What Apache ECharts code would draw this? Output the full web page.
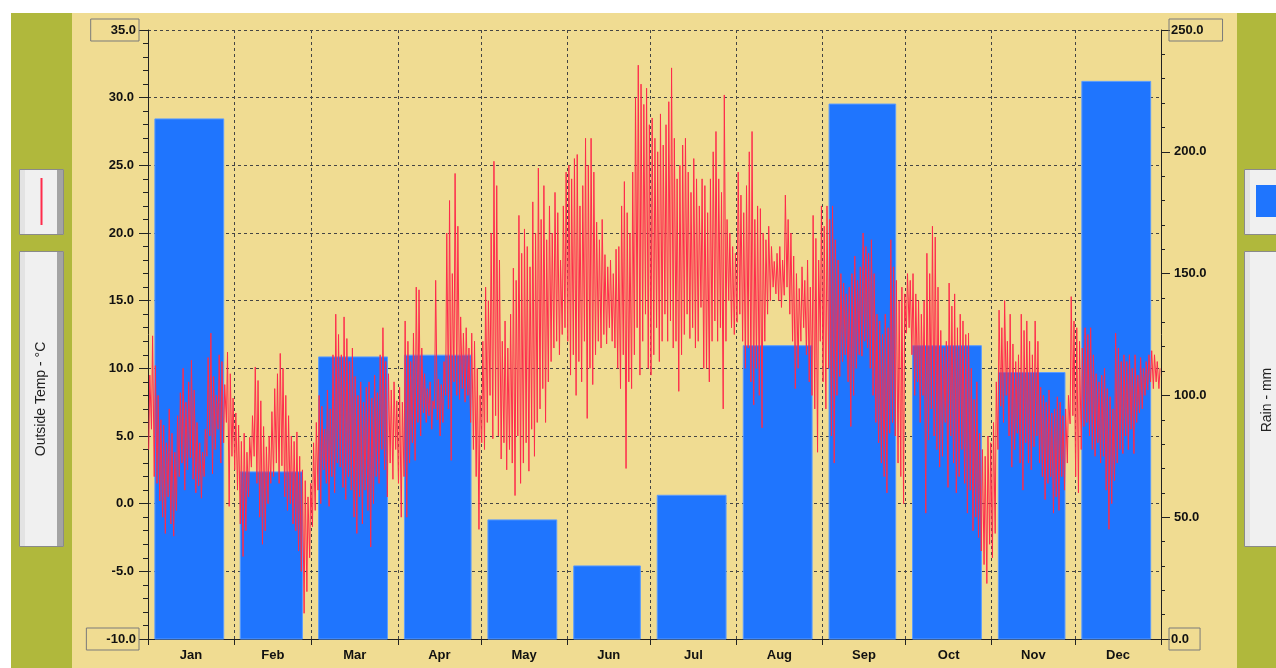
<!DOCTYPE html>
<html>
<head>
<meta charset="utf-8">
<title>Outside Temp / Rain</title>
<script src="https://cdn.jsdelivr.net/npm/echarts@6/dist/echarts.min.js"></script>
<style>
html, body { margin: 0; padding: 0; background: #fff; }
#main { width: 1276px; height: 668px; }
</style>
</head>
<body>
<div id="main"></div>
<script>
var months = ['Jan', 'Feb', 'Mar', 'Apr', 'May', 'Jun', 'Jul', 'Aug', 'Sep', 'Oct', 'Nov', 'Dec'];
var monthDays = [31, 28, 31, 30, 31, 30, 31, 31, 30, 31, 30, 31];

// monthly rain totals (mm)
var rainTotals = [213.5, 68.6, 115.8, 116.5, 48.9, 30.0, 59.0, 120.4, 219.6, 120.4, 109.4, 228.9];

// daily high / low outside temperature (°C), one line per month
var tempHigh = [
    9.5, 12.4, 10.2, 8.0, 6.2, 5.8, 4.5, 7.0, 5.2, 3.8, 6.5, 8.2, 10.0, 7.5, 9.0, 10.6, 8.4, 6.0, 4.5, 3.8, 5.5, 10.8, 12.6, 9.4, 8.0, 11.0, 10.5, 8.8, 11.2, 9.6, 7.8,
    6.7, 5.8, 4.6, 5.2, 3.8, 4.9, 6.5, 10.1, 9.1, 7.6, 5.7, 4.2, 5.0, 6.8, 8.5, 9.6, 11.1, 10.0, 8.0, 6.5, 5.0, 4.6, 5.3, 3.5, 2.5, 1.7, 0.5, 1.5,
    4.5, 6.0, 8.0, 7.2, 5.5, 8.4, 7.0, 11.0, 14.0, 12.5, 11.0, 13.8, 12.2, 10.5, 11.5, 9.4, 8.0, 9.0, 7.5, 8.6, 9.0, 7.8, 9.5, 8.2, 11.0, 13.0, 10.5, 9.6, 8.4, 9.0, 7.6,
    8.6, 7.5, 13.5, 12.0, 10.5, 12.6, 16.0, 15.8, 11.5, 9.6, 8.5, 9.0, 7.6, 16.5, 9.2, 8.8, 10.5, 20.0, 22.4, 17.0, 24.4, 20.5, 13.8, 12.6, 13.0, 11.5, 12.6, 12.0, 10.0, 8.0,
    12.0, 16.0, 15.0, 20.0, 25.3, 23.5, 18.0, 12.0, 13.5, 11.5, 14.0, 17.4, 16.5, 21.3, 18.5, 20.3, 19.0, 17.5, 22.3, 20.0, 24.8, 21.0, 23.5, 19.5, 22.0, 20.0, 23.0, 21.5, 18.0, 22.0, 24.5,
    25.0, 24.0, 25.5, 25.8, 22.0, 23.5, 27.0, 25.0, 27.0, 24.5, 20.8, 19.5, 21.0, 18.4, 17.5, 18.0, 17.0, 18.8, 19.0, 22.0, 23.8, 21.5, 20.0, 24.5, 30.0, 32.4, 31.0, 29.5, 30.7, 28.0,
    28.5, 27.0, 26.0, 28.8, 26.5, 28.0, 29.7, 32.2, 27.0, 24.0, 25.0, 26.5, 27.0, 24.5, 23.0, 25.5, 24.0, 22.0, 24.0, 23.5, 21.5, 24.0, 26.0, 27.5, 24.0, 23.0, 30.2, 21.0, 20.0, 19.0, 18.5,
    24.5, 22.8, 21.5, 23.5, 26.0, 27.5, 21.0, 22.0, 21.8, 20.0, 19.5, 20.5, 19.0, 17.9, 18.5, 19.0, 18.0, 22.8, 21.0, 20.0, 18.3, 17.0, 15.9, 17.5, 16.5, 18.0, 16.0, 21.3, 19.6, 18.0, 22.0,
    20.5, 22.0, 21.0, 22.0, 19.5, 18.0, 17.0, 16.3, 15.5, 16.0, 17.0, 18.3, 16.5, 17.5, 20.0, 19.0, 18.5, 19.5, 17.0, 14.0, 13.5, 12.5, 14.0, 13.0, 19.5, 17.5, 16.5, 15.0, 16.0, 15.5,
    17.0, 16.5, 17.0, 15.5, 15.0, 14.0, 15.0, 18.5, 17.0, 20.5, 19.7, 16.0, 12.8, 11.5, 12.0, 16.3, 14.6, 15.5, 13.0, 14.0, 13.5, 12.5, 12.6, 10.0, 7.7, 9.0, 5.2, 4.0, 3.5, 5.0, 4.5,
    6.0, 9.0, 14.3, 13.0, 15.0, 12.0, 14.0, 11.8, 10.5, 11.0, 14.0, 12.8, 13.5, 12.0, 11.0, 13.5, 12.0, 8.6, 8.0, 7.5, 8.4, 6.7, 7.0, 7.9, 7.5, 6.5, 7.0, 8.0, 15.3, 13.5,
    13.0, 12.0, 11.5, 13.0, 12.5, 13.0, 11.0, 9.6, 9.0, 9.5, 10.0, 8.5, 7.9, 7.0, 12.6, 11.5, 10.5, 11.0, 10.5, 11.0, 10.0, 11.0, 9.5, 10.8, 10.0, 10.5, 11.0, 11.3, 11.0, 10.5, 10.0
];
var tempLow = [
    4.0, 5.5, 2.0, 1.5, 0.2, -1.0, -2.2, 0.5, -1.5, -2.4, -0.5, 2.0, 3.0, 1.0, 2.5, 3.4, 1.8, 0.8, 1.3, 0.4, 2.0, 3.5, 5.0, 2.2, 4.0, 5.5, 3.0, 4.5, 6.0, -0.2, 3.5,
    2.5, 1.0, -1.5, -3.9, -2.0, 0.5, 2.7, 3.5, 1.5, -1.0, -3.0, -2.0, 0.0, 1.5, 2.0, 3.0, 1.5, 2.8, 0.5, -0.5, 0.0, -1.5, -2.0, -3.5, -5.0, -8.1, -6.5, -4.0,
    -1.7, -0.5, 1.0, 0.0, 2.5, 1.5, -0.2, 2.0, 0.8, 3.0, 2.7, 1.2, 0.3, 2.0, 1.0, -1.0, -2.2, 0.5, -1.5, 1.0, -0.5, -3.2, 0.0, 2.0, 1.5, 4.0, 2.5, 0.5, 3.0, 1.8, 4.0,
    1.5, -1.0, 2.0, -1.0, 3.0, 4.5, 3.2, 6.0, 5.0, 6.7, 6.0, 6.5, 5.5, 7.0, 6.2, 5.0, 6.0, 8.0, 7.0, 3.2, 9.0, 8.0, 7.7, 8.5, 7.5, 8.0, 6.0, 4.0, 2.0, -1.9,
    4.5, 4.0, 6.0, 8.0, 4.8, 6.5, 5.0, 3.3, 4.5, 2.5, 4.0, 3.0, 0.6, 5.0, 1.5, 3.0, 4.5, 2.4, 5.5, 3.5, 6.0, 7.0, 8.5, 6.0, 9.0, 10.5, 11.5, 12.0, 11.0, 12.5, 13.0,
    12.0, 9.5, 11.0, 8.0, 10.5, 9.0, 12.0, 6.3, 10.0, 8.8, 11.0, 12.0, 11.5, 12.5, 11.8, 13.0, 12.0, 11.5, 10.0, 8.5, 11.0, 2.6, 9.0, 8.5, 11.0, 13.0, 9.5, 12.0, 14.0, 10.0,
    9.5, 11.0, 13.0, 10.5, 12.0, 14.0, 12.0, 13.5, 11.5, 12.0, 8.3, 11.0, 12.5, 14.0, 12.2, 13.0, 11.5, 12.0, 14.5, 10.0, 10.0, 9.0, 12.0, 13.5, 12.0, 13.0, 7.0, 12.0, 15.0, 13.0, 12.5,
    13.4, 14.0, 12.0, 10.0, 11.5, 9.0, 7.3, 10.0, 8.0, 5.6, 12.0, 14.0, 15.0, 16.0, 15.5, 15.0, 14.5, 15.4, 16.0, 14.0, 12.0, 8.5, 10.0, 12.0, 13.0, 11.0, 9.0, 8.0, 7.0, 3.8, 12.0,
    9.0, 7.0, 10.0, 5.0, 3.0, 8.0, 9.4, 10.5, 11.0, 9.0, 5.7, 8.0, 10.0, 11.0, 10.9, 12.0, 11.5, 10.0, 8.0, 6.0, 4.5, 3.0, 2.0, 0.8, 5.2, 6.0, 5.0, 3.0, 2.0, 0.0,
    12.6, 13.0, 11.0, 8.0, 9.0, 6.0, 8.0, -0.7, 4.7, 7.0, 5.0, 4.0, 2.7, 3.5, 6.0, 1.2, 5.0, 3.0, 0.8, 2.0, 4.0, 1.5, -0.7, 1.0, -2.0, -1.0, -2.5, -3.5, -4.5, -5.9, -3.0,
    -4.0, -2.2, 4.0, 7.2, 6.0, 8.0, 5.0, 2.7, 4.0, 5.2, 3.0, 1.0, 4.5, 3.0, 2.5, 4.2, 5.0, 3.0, 2.0, 0.3, 1.5, 2.0, -0.7, 0.5, -0.5, 2.0, 1.0, 3.0, 5.9, 6.5,
    2.0, 0.8, 4.0, 5.7, 6.0, 5.0, 4.0, 3.5, 4.5, 3.0, 3.5, 1.0, -1.9, 0.0, 1.7, 3.0, 4.0, 3.7, 5.0, 4.0, 5.5, 3.7, 6.0, 6.7, 7.0, 8.0, 8.4, 9.0, 8.5, 9.0, 8.5
];

var beige = '#f0dc92';
var olive = '#b0b83c';
var rainBlue = '#1f75fe';
var tempRed = '#ff2b4b';
var labelFont = '"Liberation Sans", Arial, sans-serif';

// month start days on the day-of-year axis
var monthStart = [];
var monthMid = [];
var d = 0;
for (var i = 0; i < 12; i++) {
    monthStart.push(d);
    monthMid.push(d + monthDays[i] / 2);
    d += monthDays[i];
}
var yearDays = d;

var rainData = [];
for (var i = 0; i < 12; i++) {
    rainData.push([monthStart[i], monthDays[i], rainTotals[i]]);
}

// low in the morning, high in the afternoon
var tempData = [];
for (var i = 0; i < tempHigh.length; i++) {
    tempData.push([i + 0.25, tempLow[i]]);
    tempData.push([i + 0.65, tempHigh[i]]);
}

function monthName(v) {
    for (var i = 0; i < 12; i++) {
        if (v >= monthStart[i] && v < monthStart[i] + monthDays[i]) return months[i];
    }
    return '';
}

function renderRain(params, api) {
    var start = api.value(0), days = api.value(1), rain = api.value(2);
    var p0 = api.coord([start + days * 0.08, rain]);
    var p1 = api.coord([start + days * 0.88, 0]);
    return {
        type: 'rect',
        shape: { x: p0[0], y: p0[1], width: p1[0] - p0[0], height: p1[1] - p0[1] },
        style: { fill: rainBlue, stroke: '#5a9bff', lineWidth: 1 }
    };
}

function legendBox(x, y, w, h) {
    return [
        { type: 'rect', shape: { x: x + 0.5, y: y + 0.5, width: w, height: h }, style: { fill: '#f0f0f0', stroke: '#8a8a8a', lineWidth: 1 } },
        { type: 'rect', shape: { x: x + 1, y: y + 1, width: 5, height: h - 1 }, style: { fill: '#e3e3e3' } },
        { type: 'rect', shape: { x: x + w - 6, y: y + 1, width: 6, height: h - 1 }, style: { fill: '#a4a4a4' } }
    ];
}

var graphics = [
    { type: 'rect', shape: { x: 0, y: 0, width: 1276, height: 13 }, style: { fill: '#ffffff' } },
    { type: 'rect', shape: { x: 0, y: 0, width: 11, height: 668 }, style: { fill: '#ffffff' } },
    { type: 'rect', shape: { x: 11, y: 13, width: 61, height: 655 }, style: { fill: olive } },
    { type: 'rect', shape: { x: 1237, y: 13, width: 39, height: 655 }, style: { fill: olive } }
];
graphics = graphics.concat(legendBox(19, 169, 44, 65));
graphics = graphics.concat(legendBox(19, 251, 44, 295));
graphics = graphics.concat(legendBox(1244, 169, 44, 65));
graphics = graphics.concat(legendBox(1244, 251, 44, 295));
graphics.push(
    { type: 'line', shape: { x1: 41.5, y1: 178, x2: 41.5, y2: 225 }, style: { stroke: tempRed, lineWidth: 2 } },
    { type: 'rect', shape: { x: 1256, y: 185, width: 25, height: 32 }, style: { fill: rainBlue } },
    { type: 'text', x: 41, y: 399, rotation: Math.PI / 2,
      style: { text: 'Outside Temp - °C', font: '14px ' + labelFont, fill: '#222', align: 'center', verticalAlign: 'middle' } },
    { type: 'text', x: 1267, y: 400, rotation: Math.PI / 2,
      style: { text: 'Rain - mm', font: '14px ' + labelFont, fill: '#222', align: 'center', verticalAlign: 'middle' } }
);

var myChart = echarts.init(document.getElementById('main'));

var option = {
    backgroundColor: beige,
    animation: false,
    grid: { left: 148, right: 115, top: 30, bottom: 29 },
    xAxis: {
        type: 'value',
        min: 0,
        max: yearDays,
        axisLine: { show: true, onZero: false, lineStyle: { color: '#222', width: 1 } },
        axisTick: { show: true, customValues: monthStart.concat([yearDays]), length: 6, lineStyle: { color: '#222' } },
        axisLabel: {
            customValues: monthMid,
            formatter: function (v) { return monthName(v); },
            fontFamily: labelFont, fontWeight: 'bold', fontSize: 13, color: '#111', margin: 10
        },
        splitLine: { show: true, lineStyle: { type: [3, 3], color: '#444', width: 1 } }
    },
    yAxis: [
        {
            type: 'value',
            min: -10,
            max: 35,
            interval: 5,
            position: 'left',
            axisLine: { show: true, onZero: false, lineStyle: { color: '#222' } },
            axisTick: { show: true, length: 9, lineStyle: { color: '#222' } },
            minorTick: { show: true, splitNumber: 5, length: 5, lineStyle: { color: '#222' } },
            splitLine: { show: true, lineStyle: { type: [3, 3], color: '#444', width: 1 } },
            axisLabel: {
                margin: 9,
                formatter: function (v) {
                    var s = v.toFixed(1);
                    return (v === 35 || v === -10) ? '{box|' + s + '}' : '{n|' + s + '}';
                },
                rich: {
                    n: { fontFamily: labelFont, fontWeight: 'bold', fontSize: 13, color: '#111', padding: [0, 5, 0, 0] },
                    box: { fontFamily: labelFont, fontWeight: 'bold', fontSize: 13, color: '#111', padding: [5, 3, 4, 20],
                           borderColor: '#7a7a7a', borderWidth: 1 }
                }
            }
        },
        {
            type: 'value',
            min: 0,
            max: 250,
            interval: 50,
            position: 'right',
            axisLine: { show: true, onZero: false, lineStyle: { color: '#222' } },
            axisTick: { show: true, length: 9, lineStyle: { color: '#222' } },
            minorTick: { show: true, splitNumber: 5, length: 4, lineStyle: { color: '#222' } },
            splitLine: { show: false },
            axisLabel: {
                margin: 8,
                formatter: function (v) {
                    var s = v.toFixed(1);
                    if (v === 250) return '{b1|' + s + '}';
                    if (v === 0) return '{b2|' + s + '}';
                    return '{n|' + s + '}';
                },
                rich: {
                    n: { fontFamily: labelFont, fontWeight: 'bold', fontSize: 13, color: '#111', padding: [0, 0, 0, 5] },
                    b1: { fontFamily: labelFont, fontWeight: 'bold', fontSize: 13, color: '#111', padding: [5, 19, 4, 2],
                          borderColor: '#7a7a7a', borderWidth: 1 },
                    b2: { fontFamily: labelFont, fontWeight: 'bold', fontSize: 13, color: '#111', padding: [5, 11, 4, 2],
                          borderColor: '#7a7a7a', borderWidth: 1 }
                }
            }
        }
    ],
    series: [
        {
            name: 'Rain - mm',
            type: 'custom',
            yAxisIndex: 1,
            renderItem: renderRain,
            encode: { x: 0, y: 2 },
            data: rainData,
            z: 2
        },
        {
            name: 'Outside Temp - °C',
            type: 'line',
            yAxisIndex: 0,
            data: tempData,
            showSymbol: false,
            symbol: 'none',
            lineStyle: { color: tempRed, width: 1 },
            z: 3
        }
    ],
    graphic: graphics
};

myChart.setOption(option);
</script>
</body>
</html>
